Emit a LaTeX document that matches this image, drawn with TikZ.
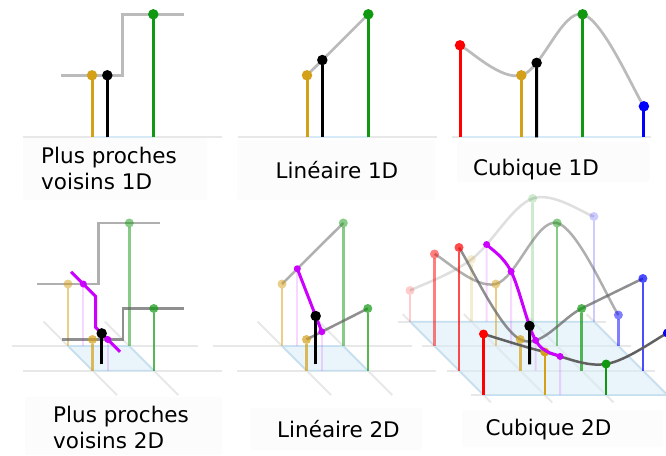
\documentclass[tikz,border=0pt]{standalone}
\usepackage{fontspec}
\setmainfont{DejaVu Sans}
\usetikzlibrary{calc}
\definecolor{gridgray}{HTML}{E8E8E8}
\definecolor{areablue}{HTML}{D6EAF8}
\definecolor{edgeblue}{HTML}{C4E0F0}
\definecolor{curvegray}{HTML}{BBBBBB}
\definecolor{rowgray}{HTML}{606060}
\definecolor{ptred}{HTML}{FF0000}
\definecolor{ptyellow}{HTML}{D4A017}
\definecolor{ptgreen}{HTML}{109910}
\definecolor{ptblue}{HTML}{0000FF}
\definecolor{ptmagenta}{HTML}{CC00FF}
\definecolor{labelbg}{HTML}{FCFCFC}
\tikzset{
  axisone/.style={x=61.3pt, y=1pt},
  axistwo/.style={x={(61.3pt,0pt)}, y={(0pt,1pt)}, z={(24.5pt,-24.5pt)}},
  groundline/.style={draw=gridgray, line width=2pt},
  support/.style={draw=areablue, line width=2pt},
  area/.style={fill=areablue, fill opacity=0.5, draw=edgeblue, line width=1.5pt},
  stemone/.style={line width=3pt, shorten >=4.5pt},
  stemtwo/.style={line width=2.4pt, shorten >=4pt},
  dotone/.style={circle, fill, inner sep=0pt, minimum size=10.5pt},
  dottwo/.style={circle, fill, inner sep=0pt, minimum size=9pt},
  dotmag/.style={circle, fill=ptmagenta, inner sep=0pt, minimum size=7pt},
  curveone/.style={draw=curvegray, line width=2.7pt},
  curvetwo/.style={draw=rowgray, line width=2.5pt},
  magline/.style={draw=ptmagenta, line width=3pt},
  magstem/.style={draw=ptmagenta, draw opacity=0.15, line width=2pt},
  labelbox/.style={fill=labelbg, rounded corners=3pt},
  caption/.style={font=\fontsize{21.5}{26}\selectfont, align=left},
  spline seg/.style n args={4}{insert path={.. controls ($(#2)+0.1667*(#3)-0.1667*(#1)$) and ($(#3)+0.1667*(#2)-0.1667*(#4)$) .. (#3)}}
}

\begin{document}
\begin{tikzpicture}[x=1pt, y=-1pt]
\fill[white] (0,0) rectangle (666,455);
\useasboundingbox (0,0) rectangle (666,455);

\fill[labelbox] (23,138) rectangle (207,200);
\fill[labelbox] (237,140) rectangle (435,200);
\fill[labelbox] (457,142) rectangle (649,182);
\fill[labelbox] (25,397) rectangle (222,455);
\fill[labelbox] (250,408) rectangle (422,450);
\fill[labelbox] (462,410) rectangle (663,447);

\begin{scope}[shift={(30.7,137.3)}, axisone]
  \draw[groundline] (-0.13,0) -- (3.12,0);
  \draw[support] (1,0) -- (2,0);
  \draw[curveone] (0.5,62) -- (1.5,62) -- (1.5,123) -- (2.5,123);
  \draw[stemone, ptyellow] (1,0) -- (1,62) node[dotone] (na) {};
  \draw[stemone, ptgreen] (2,0) -- (2,123) node[dotone] (nb) {};
  \draw[stemone, black] (1.25,0) -- (1.25,62) node[dotone] (nk) {};
\end{scope}

\begin{scope}[shift={(245.7,137.3)}, axisone]
  \draw[groundline] (-0.13,0) -- (3.12,0);
  \draw[support] (1,0) -- (2,0);
  \draw[curveone] (1,62) -- (2,123) coordinate[pos=0.25] (lk);
  \draw[stemone, ptyellow] (1,0) -- (1,62) node[dotone] (la) {};
  \draw[stemone, ptgreen] (2,0) -- (2,123) node[dotone] (lb) {};
  \draw[stemone, black] (1.25,0) -- (lk) node[dotone] (lkd) {};
\end{scope}

\begin{scope}[shift={(460,137.3)}, axisone]
  \draw[groundline] (-0.13,0) -- (3.12,0);
  \draw[support] (0,0) -- (3,0);
  \coordinate (cr) at (0,92);
  \coordinate (cy) at (1,62);
  \coordinate (cg) at (2,123);
  \coordinate (cb) at (3,31);
  \draw[curveone] (cr) [spline seg={cr}{cr}{cy}{cg}] [spline seg={cr}{cy}{cg}{cb}] coordinate[pos=0.25] (ck) [spline seg={cy}{cg}{cb}{cb}];
  \draw[stemone, ptred] (0,0) -- (cr) node[dotone] (crd) {};
  \draw[stemone, ptyellow] (1,0) -- (cy) node[dotone] (cyd) {};
  \draw[stemone, ptgreen] (2,0) -- (cg) node[dotone] (cgd) {};
  \draw[stemone, ptblue] (3,0) -- (cb) node[dotone] (cbd) {};
  \draw[stemone, black] (1.25,0) -- (ck) node[dotone] (ckd) {};
\end{scope}

\begin{scope}[shift={(-17.8,321.5)}, axistwo]
  \draw[groundline] (0.09,0,1) -- (3.12,0,1);
  \draw[groundline] (-0.13,0,2) -- (3.12,0,2);
  \draw[groundline] (1,0,0) -- (1,0,3);
  \draw[groundline] (2,0,0) -- (2,0,3);
  \filldraw[area] (1,0,1) -- (2,0,1) -- (2,0,2) -- (1,0,2) -- cycle;
  \draw[curvetwo, draw opacity=0.5] (0.5,62,1) -- (1.5,62,1) -- (1.5,123,1) -- (2.5,123,1);
  \draw[stemtwo, ptyellow, opacity=0.5] (1,0,1) -- (1,62,1) node[dottwo] (pa) {};
  \draw[stemtwo, ptgreen, opacity=0.5] (2,0,1) -- (2,123,1) node[dottwo] (pb) {};
  \draw[curvetwo, draw opacity=0.7] (0.5,31,2) -- (1.5,31,2) -- (1.5,62,2) -- (2.5,62,2);
  \draw[stemtwo, ptyellow, opacity=0.7] (1,0,2) -- (1,31,2) node[dottwo] (pc) {};
  \draw[stemtwo, ptgreen, opacity=0.7] (2,0,2) -- (2,62,2) node[dottwo] (pd) {};
  \draw[magstem] (1.25,0,1) -- (1.25,62,1);
  \draw[magstem] (1.25,0,2) -- (1.25,31,2);
  \draw[magline] (1.25,62,0.5) -- (1.25,62,1.5) -- (1.25,31,1.5) -- (1.25,31,2.5);
  \node[dotmag] (pm1) at (1.25,62,1) {};
  \node[dotmag] (pm2) at (1.25,31,2) {};
  \draw[stemtwo, black, line width=3pt] (1.25,0,1.75) -- (1.25,31,1.75) node[dotone] (pk) {};
\end{scope}

\begin{scope}[shift={(196.2,321.5)}, axistwo]
  \draw[groundline] (-0.13,0,1) -- (3.12,0,1);
  \draw[groundline] (-0.13,0,2) -- (3.12,0,2);
  \draw[groundline] (1,0,0) -- (1,0,3);
  \draw[groundline] (2,0,0) -- (2,0,3);
  \filldraw[area] (1,0,1) -- (2,0,1) -- (2,0,2) -- (1,0,2) -- cycle;
  \draw[curvetwo, draw opacity=0.5] (1,62,1) -- (2,123,1) coordinate[pos=0.25] (lm1);
  \draw[stemtwo, ptyellow, opacity=0.5] (1,0,1) -- (1,62,1) node[dottwo] (sa) {};
  \draw[stemtwo, ptgreen, opacity=0.5] (2,0,1) -- (2,123,1) node[dottwo] (sb) {};
  \draw[curvetwo, draw opacity=0.7] (1,31,2) -- (2,62,2) coordinate[pos=0.25] (lm2);
  \draw[stemtwo, ptyellow, opacity=0.7] (1,0,2) -- (1,31,2) node[dottwo] (sc) {};
  \draw[stemtwo, ptgreen, opacity=0.7] (2,0,2) -- (2,62,2) node[dottwo] (sd) {};
  \draw[magstem] (1.25,0,1) -- (lm1);
  \draw[magstem] (1.25,0,2) -- (lm2);
  \draw[magline] (lm1) -- (lm2) coordinate[pos=0.75] (sk);
  \node[dotmag] (sm1) at (lm1) {};
  \node[dotmag] (sm2) at (lm2) {};
  \draw[stemtwo, black, line width=3pt] (1.25,0,1.75) -- (sk) node[dotone] (skd) {};
\end{scope}

\begin{scope}[shift={(410,321.5)}, axistwo]
  \foreach \j in {0,...,3} \draw[groundline] (-0.2,0,\j) -- (3.2,0,\j);
  \foreach \i in {0,...,3} \draw[groundline] (\i,0,-0.3) -- (\i,0,3.3);
  \filldraw[area] (0,0,0) -- (3,0,0) -- (3,0,3) -- (0,0,3) -- cycle;
  \foreach \j/\op/\hr/\hy/\hg/\hb in {0/0.2/31/62/123/105, 1/0.5/92/62/123/31, 2/0.7/123/31/62/92, 3/1/61/43/31/62} {
    \coordinate (qr\j) at (0,\hr,\j);
    \coordinate (qy\j) at (1,\hy,\j);
    \coordinate (qg\j) at (2,\hg,\j);
    \coordinate (qb\j) at (3,\hb,\j);
    \draw[curvetwo, draw opacity=\op] (qr\j) [spline seg={qr\j}{qr\j}{qy\j}{qg\j}] [spline seg={qr\j}{qy\j}{qg\j}{qb\j}] coordinate[pos=0.25] (qm\j) [spline seg={qy\j}{qg\j}{qb\j}{qb\j}];
    \draw[stemtwo, ptred, opacity=\op] (0,0,\j) -- (qr\j) node[dottwo] (qrd\j) {};
    \draw[stemtwo, ptyellow, opacity=\op] (1,0,\j) -- (qy\j) node[dottwo] (qyd\j) {};
    \draw[stemtwo, ptgreen, opacity=\op] (2,0,\j) -- (qg\j) node[dottwo] (qgd\j) {};
    \draw[stemtwo, ptblue, opacity=\op] (3,0,\j) -- (qb\j) node[dottwo] (qbd\j) {};
    \draw[magstem] (1.25,0,\j) -- (qm\j);
  }
  \draw[magline] (qm0) [spline seg={qm0}{qm0}{qm1}{qm2}] [spline seg={qm0}{qm1}{qm2}{qm3}] coordinate[pos=0.75] (qk) [spline seg={qm1}{qm2}{qm3}{qm3}];
  \foreach \j in {0,...,3} \node[dotmag] (qmd\j) at (qm\j) {};
  \draw[stemtwo, black, line width=3pt] (1.25,0,1.75) -- (qk) node[dotone] (qkd) {};
\end{scope}

\node[caption] (t1) at (109,168.2) {Plus proches\\voisins 1D};
\node[caption] (t2) at (337,169.9) {Linéaire 1D};
\node[caption] (t3) at (536,169.8) {Cubique 1D};
\node[caption] (t4) at (121,427.5) {Plus proches\\voisins 2D};
\node[caption] (t5) at (338.5,428.9) {Linéaire 2D};
\node[caption] (t6) at (548.5,429.1) {Cubique 2D};
\end{tikzpicture}
\end{document}
